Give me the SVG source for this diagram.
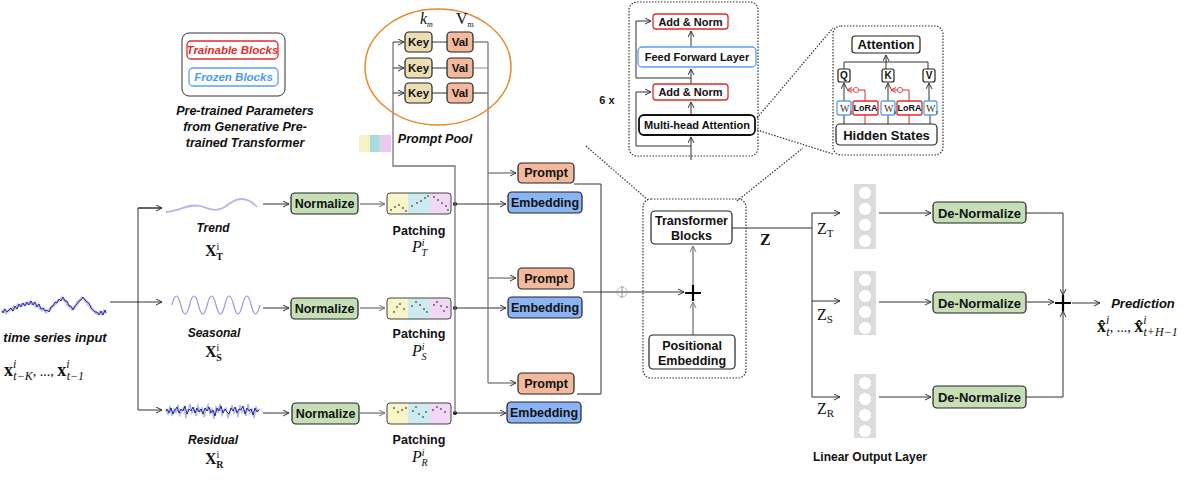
<svg xmlns="http://www.w3.org/2000/svg" width="1188" height="498" viewBox="0 0 1188 498">
<defs>
<marker id="a" markerWidth="7" markerHeight="7" refX="6.5" refY="3.5" orient="auto" markerUnits="userSpaceOnUse"><path d="M0.5,0.5 L6.5,3.5 L0.5,6.5" fill="none" stroke="#333" stroke-width="1"/></marker>
<marker id="ag" markerWidth="7" markerHeight="7" refX="6.5" refY="3.5" orient="auto" markerUnits="userSpaceOnUse"><path d="M0.5,0.5 L6.5,3.5 L0.5,6.5" fill="none" stroke="#777" stroke-width="1"/></marker>
<marker id="ar" markerWidth="6" markerHeight="6" refX="5.5" refY="3" orient="auto" markerUnits="userSpaceOnUse"><path d="M0.5,0.5 L5.5,3 L0.5,5.5" fill="none" stroke="#E52A2A" stroke-width="1"/></marker>
</defs>
<style>
text{font-family:"Liberation Sans",Arial,sans-serif;fill:#111}
.b{font-weight:bold;font-size:12.5px;text-anchor:middle;dominant-baseline:central}
.s{font-size:11px}
.it{font-style:italic;font-weight:bold;font-size:12.5px;text-anchor:middle}
.m{font-family:"Liberation Serif","Times New Roman",serif;font-size:16px}
.bx{stroke:#222;stroke-width:1.2}
.ln{stroke:#333;stroke-width:1;fill:none}
.gl{stroke:#888;stroke-width:1.5;fill:none}
.dt{stroke:#333;stroke-width:1.2;fill:none;stroke-dasharray:1.5 1.5}
.grn{fill:#C6DFB6}
.blu{fill:#8AB4F4}
.pr{fill:#F2B99C}
.key{fill:#ECDDB3}
.red{fill:#fff;stroke:#E52A2A;stroke-width:1.3}
.fz{fill:#fff;stroke:#5AA0F0;stroke-width:1.3}
</style>

<!-- legend -->
<g id="legend">
<rect x="182" y="33" width="103" height="63" rx="7" fill="none" stroke="#333" stroke-width="1"/>
<rect x="187" y="41" width="91" height="18" rx="4" class="red"/>
<text x="232.5" y="50" class="it" style="font-size:11.5px;dominant-baseline:central;fill:#E52A2A">Trainable Blocks</text>
<rect x="189" y="68" width="89" height="18" rx="4" class="fz"/>
<text x="233.5" y="77" class="it" style="font-size:11.5px;dominant-baseline:central;fill:#4A9AF0">Frozen Blocks</text>
<text x="245" y="115" class="it">Pre-trained Parameters</text>
<text x="245" y="131" class="it">from Generative Pre-</text>
<text x="245" y="147" class="it">trained Transformer</text>
</g>

<!-- connectors -->
<g id="connectors">
<line x1="110" y1="302" x2="162" y2="302" class="ln" marker-end="url(#a)"/>
<path d="M162,208 H138 V410 H162" class="ln" marker-end="url(#a)"/>
<line x1="138" y1="208" x2="162" y2="208" class="ln" marker-end="url(#a)"/>
<line x1="263" y1="204" x2="289" y2="204" class="ln" marker-end="url(#a)"/>
<line x1="263" y1="308" x2="289" y2="308" class="ln" marker-end="url(#a)"/>
<line x1="263" y1="413" x2="289" y2="413" class="ln" marker-end="url(#a)"/>
<line x1="360" y1="204" x2="385" y2="204" class="gl" marker-end="url(#ag)"/>
<line x1="360" y1="308" x2="385" y2="308" class="gl" marker-end="url(#ag)"/>
<line x1="360" y1="413" x2="385" y2="413" class="gl" marker-end="url(#ag)"/>
<line x1="455" y1="204" x2="506" y2="204" class="ln" marker-end="url(#a)"/>
<line x1="455" y1="308" x2="506" y2="308" class="ln" marker-end="url(#a)"/>
<line x1="455" y1="413" x2="506" y2="413" class="ln" marker-end="url(#a)"/>
<circle cx="455" cy="204" r="2" fill="#111"/>
<circle cx="455" cy="308" r="2" fill="#111"/>
<circle cx="455" cy="413" r="2" fill="#111"/>
<path d="M455,413 V166 H393 V42" fill="none" stroke="#777" stroke-width="1.3"/>
<line x1="393" y1="42" x2="404" y2="42" class="ln" marker-end="url(#a)"/>
<line x1="393" y1="68" x2="404" y2="68" class="ln" marker-end="url(#a)"/>
<line x1="393" y1="93" x2="404" y2="93" class="ln" marker-end="url(#a)"/>
<line x1="432" y1="42" x2="447" y2="42" stroke="#666" stroke-width="1.3"/>
<line x1="432" y1="68" x2="447" y2="68" class="ln"/>
<line x1="432" y1="93" x2="447" y2="93" class="ln"/>
<line x1="473" y1="42" x2="488" y2="42" stroke="#888" stroke-width="1.5"/>
<line x1="473" y1="68" x2="488" y2="68" stroke="#888" stroke-width="1"/>
<line x1="473" y1="93" x2="488" y2="93" class="ln"/>
<line x1="488" y1="42" x2="488" y2="383" stroke="#777" stroke-width="1.3"/>
<line x1="488" y1="173" x2="516" y2="173" stroke="#777" stroke-width="1.3" marker-end="url(#a)"/>
<line x1="488" y1="278" x2="516" y2="278" stroke="#777" stroke-width="1.3" marker-end="url(#a)"/>
<line x1="488" y1="383" x2="516" y2="383" stroke="#777" stroke-width="1.3" marker-end="url(#a)"/>
<path d="M574,184 H601 V394 H577" class="ln"/>
<line x1="577" y1="394" x2="601" y2="394" stroke="#888" stroke-width="1.5"/>
<line x1="583" y1="292" x2="684" y2="292" class="ln" marker-end="url(#a)"/>
<circle cx="622" cy="292" r="5" fill="none" stroke="#777" stroke-width="0.8" stroke-dasharray="1.2 0.8"/>
<line x1="622" y1="286" x2="622" y2="298" stroke="#777" stroke-width="0.8"/>
<line x1="693" y1="285" x2="693" y2="246" class="gl" marker-end="url(#ag)"/>
<line x1="693" y1="335" x2="693" y2="302" class="gl" marker-end="url(#ag)"/>
<line x1="732" y1="228" x2="812" y2="228" class="ln"/>
<line x1="812" y1="213" x2="812" y2="397" class="ln"/>
<line x1="812" y1="213" x2="840" y2="213" class="ln" marker-end="url(#a)"/>
<line x1="812" y1="301" x2="840" y2="301" class="ln" marker-end="url(#a)"/>
<line x1="812" y1="397" x2="840" y2="397" class="ln" marker-end="url(#a)"/>
<line x1="879" y1="213" x2="931" y2="213" class="ln" marker-end="url(#a)"/>
<line x1="879" y1="302" x2="931" y2="302" class="ln" marker-end="url(#a)"/>
<line x1="879" y1="397" x2="931" y2="397" class="ln" marker-end="url(#a)"/>
<path d="M1026,213 H1063 V295" class="ln" marker-end="url(#a)"/>
<line x1="1027" y1="302" x2="1054" y2="302" class="ln" marker-end="url(#a)"/>
<path d="M1026,397 H1063 V311" class="ln" marker-end="url(#a)"/>
<line x1="1072" y1="303" x2="1100" y2="303" class="ln" marker-end="url(#a)"/>
<line x1="586" y1="146" x2="648" y2="200" class="dt" stroke-width="1"/>
<line x1="737" y1="201" x2="803" y2="148" class="dt" stroke-width="1"/>
<line x1="757" y1="118" x2="833" y2="28" class="dt" stroke-width="1"/>
<line x1="757" y1="130" x2="833" y2="154" class="dt" stroke-width="1"/>
<line x1="691" y1="160" x2="691" y2="137" class="ln" marker-end="url(#a)"/>
<line x1="691" y1="115" x2="691" y2="102" class="ln" marker-end="url(#a)"/>
<line x1="691" y1="84" x2="691" y2="69" class="ln" marker-end="url(#a)"/>
<line x1="691" y1="47" x2="691" y2="31" class="ln" marker-end="url(#a)"/>
<path d="M691,146 H636 V92 H651" class="ln" marker-end="url(#a)"/>
<path d="M691,78 H636 V21 H651" class="ln" marker-end="url(#a)"/>
<path d="M844,69 V62 H928 V69" class="ln"/>
<line x1="886" y1="62" x2="886" y2="55" class="ln" marker-end="url(#a)"/>
<line x1="886" y1="62" x2="886" y2="69" class="ln"/>
<line x1="844" y1="101" x2="844" y2="83" class="ln" marker-end="url(#a)"/>
<line x1="888" y1="101" x2="888" y2="83" class="ln" marker-end="url(#a)"/>
<line x1="929" y1="101" x2="929" y2="83" class="ln" marker-end="url(#a)"/>
<path d="M865,101 V90 H847" fill="none" stroke="#E52A2A" stroke-width="1" marker-end="url(#ar)"/>
<path d="M909,101 V90 H891" fill="none" stroke="#E52A2A" stroke-width="1" marker-end="url(#ar)"/>
<circle cx="856" cy="90" r="2.6" fill="#fff" stroke="#E52A2A" stroke-width="0.8"/>
<circle cx="900" cy="90" r="2.6" fill="#fff" stroke="#E52A2A" stroke-width="0.8"/>
<line x1="844" y1="124" x2="844" y2="115" class="ln"/>
<line x1="865" y1="124" x2="865" y2="115" stroke="#E52A2A" stroke-width="1"/>
<line x1="888" y1="124" x2="888" y2="115" class="ln"/>
<line x1="909" y1="124" x2="909" y2="115" stroke="#E52A2A" stroke-width="1"/>
<line x1="930" y1="124" x2="930" y2="115" class="ln"/>
</g>

<!-- input -->
<g id="input">
<path d="M2,312 L4,310 6,313 8,311 10,309 12,310 14,307 16,308 18,305 20,306 22,304 24,305 26,303 28,304 30,302 32,304 34,303 36,306 38,305 40,308 42,310 44,309 46,312 48,311 50,309 52,307 54,305 56,303 58,301 60,300 62,298 64,300 66,302 68,305 70,307 72,309 74,308 76,305 78,302 80,300 82,298 84,299 86,301 88,304 90,306 92,309 94,311 96,313 98,314 100,312 102,314 104,311 106,313" fill="none" stroke="#9A9AD8" stroke-width="3" opacity="0.6"/>
<path d="M2,311 L3,313 5,309 7,312 9,310 11,308 13,311 15,306 17,309 19,304 21,307 23,303 25,306 27,302 29,305 31,301 33,305 35,302 37,307 39,304 41,309 43,308 45,311 47,310 49,312 51,307 53,306 55,302 57,303 59,299 61,301 63,297 65,301 67,301 69,306 71,306 73,310 75,306 77,304 79,301 81,300 83,297 85,300 87,302 89,303 91,308 93,310 95,312 97,312 99,315 101,311 103,315 105,310 106,313" fill="none" stroke="#2B2B9E" stroke-width="1"/>
<text x="55" y="342" class="it" style="font-size:13px">time series input</text>
<text x="4" y="376" class="m" style="font-size:18px"><tspan font-weight="bold">x</tspan><tspan font-size="12" font-style="italic" dy="-8">i</tspan><tspan font-size="12" font-style="italic" dx="-3" dy="12">t−K</tspan><tspan font-size="14" dy="-4">, ..., </tspan><tspan font-weight="bold">x</tspan><tspan font-size="12" font-style="italic" dy="-8">i</tspan><tspan font-size="12" font-style="italic" dx="-3" dy="12">t−1</tspan></text>
</g>

<g id="trend">
<path d="M166,212 C180,211 189,203 200,206 C210,209 216,213 226,206 C236,198 246,195 257,207" fill="none" stroke="#B5B8E6" stroke-width="1.8"/>
<text x="213" y="232" class="it" style="font-size:12px">Trend</text>
<text x="205" y="256" class="m"><tspan font-weight="bold">X</tspan><tspan font-size="10" dy="-6">i</tspan><tspan font-size="10" font-weight="bold" dx="-3" dy="10">T</tspan></text>
</g>
<g id="seasonal">
<path d="M172,305 q4.4,-18 8.8,0 t8.8,0 t8.8,0 t8.8,0 t8.8,0 t8.8,0 t8.8,0 t8.8,0 t8.8,0 t8.8,0" fill="none" stroke="#9A9AE0" stroke-width="1.2"/>
<text x="214" y="337" class="it" style="font-size:12px">Seasonal</text>
<text x="205" y="357" class="m"><tspan font-weight="bold">X</tspan><tspan font-size="10" dy="-6">i</tspan><tspan font-size="10" font-weight="bold" dx="-3" dy="10">S</tspan></text>
</g>
<g id="residual">
<path d="M166,410 L168,414 170,406 172,416 174,409 176,412 178,405 180,415 182,410 184,407 186,418 188,411 190,404 192,413 194,409 196,416 198,406 200,412 202,408 204,417 206,410 208,405 210,414 212,409 214,419 216,407 218,412 220,404 222,415 224,410 226,408 228,418 230,411 232,406 234,413 236,409 238,417 240,405 242,412 244,410 246,416 248,404 250,413 252,409 254,418 256,407 258,411 260,409" fill="none" stroke="#7E86E0" stroke-width="1.5" opacity="0.6"/>
<path d="M166,411 L167,409 169,413 171,408 173,414 175,410 177,407 179,413 181,409 183,411 185,406 187,414 189,409 191,411 193,407 195,413 197,408 199,412 201,409 203,414 205,408 207,411 209,407 211,413 213,410 215,416 217,408 219,411 221,406 223,413 225,409 227,412 229,414 231,408 233,411 235,407 237,413 239,409 241,410 243,406 245,414 247,408 249,411 251,409 253,415 255,408 257,412 259,410" fill="none" stroke="#23239A" stroke-width="1"/>
<text x="213" y="444" class="it" style="font-size:12px">Residual</text>
<text x="205" y="464" class="m"><tspan font-weight="bold">X</tspan><tspan font-size="10" dy="-6">i</tspan><tspan font-size="10" font-weight="bold" dx="-3" dy="10">R</tspan></text>
</g>

<g id="norm-t"><rect x="291" y="193" width="67" height="21" rx="4" class="grn bx"/><text x="324.5" y="204" class="b">Normalize</text></g>
<g id="norm-s"><rect x="291" y="298" width="67" height="21" rx="4" class="grn bx"/><text x="324.5" y="309" class="b">Normalize</text></g>
<g id="norm-r"><rect x="292" y="403" width="67" height="21" rx="4" class="grn bx"/><text x="325.5" y="414" class="b">Normalize</text></g>

<g id="patch-t">
<rect x="387" y="193" width="21" height="21" fill="#F8F5C8"/><rect x="408" y="193" width="22" height="21" fill="#CDEAEE"/><rect x="430" y="193" width="21" height="21" fill="#F2D7F6"/>
<rect x="387" y="193" width="64" height="21" rx="3" fill="none" stroke="#444" stroke-width="1"/>
<g fill="#555"><circle cx="391" cy="210" r="0.9"/><circle cx="395" cy="207" r="0.9"/><circle cx="399" cy="205" r="0.9"/><circle cx="403" cy="208" r="0.9"/><circle cx="406" cy="211" r="0.9"/><circle cx="412" cy="206" r="0.9"/><circle cx="417" cy="203" r="0.9"/><circle cx="421" cy="201" r="0.9"/><circle cx="425" cy="198" r="0.9"/><circle cx="428" cy="196" r="0.9"/><circle cx="434" cy="197" r="0.9"/><circle cx="438" cy="200" r="0.9"/><circle cx="442" cy="203" r="0.9"/><circle cx="446" cy="206" r="0.9"/><circle cx="448" cy="210" r="0.9"/></g>
<text x="419" y="231" class="b">Patching</text>
<text x="412" y="252" class="m" font-style="italic">P<tspan font-size="10" dy="-6">i</tspan><tspan font-size="10" dx="-3" dy="10">T</tspan></text>
</g>
<g id="patch-s">
<rect x="387" y="298" width="21" height="21" fill="#F8F5C8"/><rect x="408" y="298" width="22" height="21" fill="#CDEAEE"/><rect x="430" y="298" width="21" height="21" fill="#F2D7F6"/>
<rect x="387" y="298" width="64" height="21" rx="3" fill="none" stroke="#444" stroke-width="1"/>
<g fill="#555"><circle cx="394" cy="312" r="0.9"/><circle cx="397" cy="307" r="0.9"/><circle cx="400" cy="304" r="0.9"/><circle cx="404" cy="309" r="0.9"/><circle cx="412" cy="306" r="0.9"/><circle cx="416" cy="302" r="0.9"/><circle cx="420" cy="305" r="0.9"/><circle cx="424" cy="309" r="0.9"/><circle cx="427" cy="312" r="0.9"/><circle cx="434" cy="305" r="0.9"/><circle cx="437" cy="302" r="0.9"/><circle cx="441" cy="306" r="0.9"/><circle cx="444" cy="311" r="0.9"/><circle cx="447" cy="307" r="0.9"/></g>
<text x="419" y="334" class="b">Patching</text>
<text x="412" y="356" class="m" font-style="italic">P<tspan font-size="10" dy="-6">i</tspan><tspan font-size="10" dx="-3" dy="10">S</tspan></text>
</g>
<g id="patch-r">
<rect x="387" y="403" width="21" height="21" fill="#F8F5C8"/><rect x="408" y="403" width="22" height="21" fill="#CDEAEE"/><rect x="430" y="403" width="21" height="21" fill="#F2D7F6"/>
<rect x="387" y="403" width="64" height="21" rx="3" fill="none" stroke="#444" stroke-width="1"/>
<g fill="#555"><circle cx="394" cy="408" r="0.9"/><circle cx="398" cy="412" r="0.9"/><circle cx="402" cy="410" r="0.9"/><circle cx="406" cy="408" r="0.9"/><circle cx="413" cy="411" r="0.9"/><circle cx="416" cy="407" r="0.9"/><circle cx="419" cy="414" r="0.9"/><circle cx="423" cy="417" r="0.9"/><circle cx="426" cy="412" r="0.9"/><circle cx="433" cy="410" r="0.9"/><circle cx="437" cy="407" r="0.9"/><circle cx="441" cy="409" r="0.9"/><circle cx="445" cy="412" r="0.9"/></g>
<text x="419" y="440" class="b">Patching</text>
<text x="412" y="462" class="m" font-style="italic">P<tspan font-size="10" dy="-6">i</tspan><tspan font-size="10" dx="-3" dy="10">R</tspan></text>
</g>

<g id="prompt-pool">
<ellipse cx="438" cy="67" rx="73" ry="58" fill="none" stroke="#E8892A" stroke-width="1.5"/>
<text x="420" y="24" class="m" font-style="italic" font-size="13">k<tspan font-size="8" dy="3">m</tspan></text>
<text x="456" y="24" class="m" font-size="13">V<tspan font-size="8" dy="3">m</tspan></text>
<rect x="405" y="32" width="27" height="20" rx="4" class="key bx"/><text x="418.5" y="42" class="b" style="font-size:11.5px">Key</text>
<rect x="405" y="58" width="27" height="20" rx="4" class="key bx"/><text x="418.5" y="68" class="b" style="font-size:11.5px">Key</text>
<rect x="405" y="83" width="27" height="20" rx="4" class="key bx"/><text x="418.5" y="93" class="b" style="font-size:11.5px">Key</text>
<rect x="447" y="32" width="26" height="20" rx="4" class="pr bx"/><text x="460" y="42" class="b" style="font-size:11.5px">Val</text>
<rect x="447" y="58" width="26" height="20" rx="4" class="pr bx"/><text x="460" y="68" class="b" style="font-size:11.5px">Val</text>
<rect x="447" y="83" width="26" height="20" rx="4" class="pr bx"/><text x="460" y="93" class="b" style="font-size:11.5px">Val</text>
<text x="435" y="143" class="it" style="font-size:12.5px">Prompt Pool</text>
<rect x="359" y="135" width="11" height="17" fill="#F5F3C4"/><rect x="370" y="135" width="10.5" height="17" fill="#A9DCDC"/><rect x="380.5" y="135" width="10.5" height="17" fill="#E9C9F2"/>
</g>

<g id="prompt-1"><rect x="518" y="163" width="56" height="20" rx="4" class="pr bx"/><text x="546" y="173" class="b">Prompt</text></g>
<g id="prompt-2"><rect x="518" y="268" width="56" height="21" rx="4" class="pr bx"/><text x="546" y="278.5" class="b">Prompt</text></g>
<g id="prompt-3"><rect x="518" y="373" width="56" height="21" rx="4" class="pr bx"/><text x="546" y="383.5" class="b">Prompt</text></g>
<g id="emb-1"><rect x="508" y="192" width="74" height="21" rx="4" class="blu bx"/><text x="545" y="203" class="b">Embedding</text></g>
<g id="emb-2"><rect x="508" y="297" width="74" height="21" rx="4" class="blu bx"/><text x="545" y="308" class="b">Embedding</text></g>
<g id="emb-3"><rect x="507" y="402" width="74" height="21" rx="4" class="blu bx"/><text x="544" y="413" class="b">Embedding</text></g>

<g id="transformer">
<rect x="643" y="199" width="103" height="179" rx="8" class="dt"/>
<rect x="651" y="211" width="81" height="33" rx="4" fill="#fff" class="bx"/>
<text x="691.5" y="221" class="b">Transformer</text>
<text x="691.5" y="236" class="b">Blocks</text>
<path d="M685,293 H701 M693,285 V301" stroke="#000" stroke-width="2.2"/>
<rect x="649" y="335" width="86" height="34" rx="4" fill="#fff" class="bx"/>
<text x="692" y="346" class="b">Positional</text>
<text x="692" y="361" class="b">Embedding</text>
</g>

<g id="block-detail">
<rect x="629" y="2" width="129" height="154" rx="8" class="dt"/>
<rect x="653" y="14" width="75" height="15" rx="3" class="red"/><text x="690.5" y="21.5" class="b s">Add &amp; Norm</text>
<rect x="638" y="47" width="118" height="20" rx="4" class="fz"/><text x="697" y="57" class="b s">Feed Forward Layer</text>
<rect x="653" y="84" width="75" height="16" rx="3" class="red"/><text x="690.5" y="92" class="b s">Add &amp; Norm</text>
<rect x="639" y="115" width="116" height="20" rx="5" fill="#fff" stroke="#111" stroke-width="1.8"/><text x="697" y="125" class="b s">Multi-head Attention</text>
<text x="607" y="100" class="b s">6 x</text>
</g>

<g id="attention-detail">
<rect x="833" y="26" width="110" height="129" rx="8" class="dt"/>
<rect x="852" y="36" width="68" height="17" rx="3" fill="#fff" class="bx"/><text x="886" y="44.5" class="b" style="font-size:13px">Attention</text>
<rect x="838" y="69" width="12" height="13" rx="2" fill="#fff" class="bx"/><text x="844" y="75.5" class="b" style="font-size:10px">Q</text>
<rect x="882" y="69" width="12" height="13" rx="2" fill="#fff" class="bx"/><text x="888" y="75.5" class="b" style="font-size:10px">K</text>
<rect x="923" y="69" width="12" height="13" rx="2" fill="#fff" class="bx"/><text x="929" y="75.5" class="b" style="font-size:10px">V</text>
<rect x="837" y="101" width="14" height="14" rx="2" class="fz"/><text x="840" y="111.5" class="m" style="font-size:10px;fill:#333">W<tspan font-size="6" dy="2">q</tspan></text>
<rect x="853" y="101" width="25" height="14" rx="2" class="red"/><text x="865.5" y="108" class="b" style="font-size:9px">LoRA</text>
<rect x="881" y="101" width="14" height="14" rx="2" class="fz"/><text x="884" y="111.5" class="m" style="font-size:10px;fill:#333">W<tspan font-size="6" dy="2">k</tspan></text>
<rect x="897" y="101" width="25" height="14" rx="2" class="red"/><text x="909.5" y="108" class="b" style="font-size:9px">LoRA</text>
<rect x="924" y="101" width="13" height="14" rx="2" class="fz"/><text x="926" y="111.5" class="m" style="font-size:10px;fill:#333">W<tspan font-size="6" dy="2">v</tspan></text>
<rect x="836" y="124" width="101" height="21" rx="4" fill="#fff" class="bx"/><text x="886.5" y="135" class="b" style="font-size:13px">Hidden States</text>
</g>

<g id="z-labels">
<text x="760" y="245" class="m" font-weight="bold" font-size="17">Z</text>
<text x="817" y="234" class="m" font-size="17">Z<tspan font-size="11" dy="3">T</tspan></text>
<text x="817" y="320" class="m" font-size="17">Z<tspan font-size="11" dy="3">S</tspan></text>
<text x="817" y="414" class="m" font-size="17">Z<tspan font-size="11" dy="3">R</tspan></text>
</g>
<g id="linear-t"><rect x="854" y="184" width="22" height="65" fill="#DCDCDC"/>
<g fill="#fff" stroke="#c4c4c4" stroke-width="0.8" stroke-dasharray="1.5 1.2"><circle cx="865" cy="193" r="6.5"/><circle cx="865" cy="209" r="6.5"/><circle cx="865" cy="225" r="6.5"/><circle cx="865" cy="241" r="6.5"/></g></g>
<g id="linear-s"><rect x="854" y="271" width="22" height="64" fill="#DCDCDC"/>
<g fill="#fff" stroke="#c4c4c4" stroke-width="0.8" stroke-dasharray="1.5 1.2"><circle cx="865" cy="280" r="6.5"/><circle cx="865" cy="296" r="6.5"/><circle cx="865" cy="312" r="6.5"/><circle cx="865" cy="328" r="6.5"/></g></g>
<g id="linear-r"><rect x="854" y="374" width="22" height="64" fill="#DCDCDC"/>
<g fill="#fff" stroke="#c4c4c4" stroke-width="0.8" stroke-dasharray="1.5 1.2"><circle cx="865" cy="383" r="6.5"/><circle cx="865" cy="399" r="6.5"/><circle cx="865" cy="415" r="6.5"/><circle cx="865" cy="431" r="6.5"/></g></g>
<text x="870" y="461" class="it" style="font-style:normal;font-size:12px">Linear Output Layer</text>

<g id="denorm-t"><rect x="933" y="202" width="93" height="21" rx="4" class="grn bx"/><text x="979.5" y="213" class="b" style="font-size:13px">De-Normalize</text></g>
<g id="denorm-s"><rect x="933" y="292" width="93" height="21" rx="4" class="grn bx"/><text x="979.5" y="303" class="b" style="font-size:13px">De-Normalize</text></g>
<g id="denorm-r"><rect x="933" y="386" width="93" height="22" rx="4" class="grn bx"/><text x="979.5" y="397" class="b" style="font-size:13px">De-Normalize</text></g>

<g id="sum"><path d="M1055,303 H1071 M1063,295 V311" stroke="#000" stroke-width="2.2"/></g>
<g id="prediction">
<text x="1143" y="308" class="it" style="font-size:13px">Prediction</text>
<text x="1097" y="332" class="m" style="font-size:18px"><tspan font-weight="bold">x̂</tspan><tspan font-size="12" font-style="italic" dy="-8">i</tspan><tspan font-size="12" font-style="italic" dx="-3" dy="12">t</tspan><tspan font-size="14" dy="-4">, ..., </tspan><tspan font-weight="bold">x̂</tspan><tspan font-size="12" font-style="italic" dy="-8">i</tspan><tspan font-size="12" font-style="italic" dx="-3" dy="12">t+H−1</tspan></text>
</g>
</svg>
